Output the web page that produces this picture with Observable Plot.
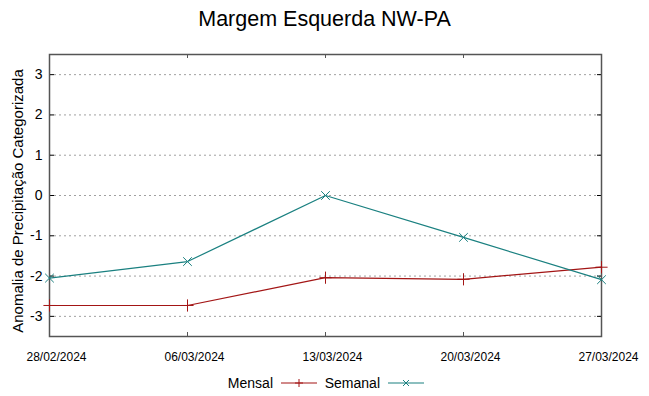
<!DOCTYPE html>
<html>
<head>
<meta charset="utf-8">
<script src="https://cdn.jsdelivr.net/npm/d3@7"></script>
<script src="https://cdn.jsdelivr.net/npm/@observablehq/plot@0.6"></script>
<style>
  html, body { margin: 0; padding: 0; background: #fff; }
  #wrap { position: relative; width: 649px; height: 396px; font-family: "Liberation Sans", Arial, sans-serif; }
  #title { position: absolute; top: 7px; left: 0; width: 649px; text-align: center; font-size: 21.5px; color: #000; }
  #legend { position: absolute; top: 372px; left: 0; width: 649px; font-size: 14px; color: #000; }
  #chart { position: absolute; top: 0; left: 0; }
</style>
</head>
<body>
<div id="wrap">
  <div id="chart"></div>
  <div id="title">Margem Esquerda NW-PA</div>
  <div id="legend"></div>
</div>
<script>
const dates = ["2024-02-28", "2024-03-06", "2024-03-13", "2024-03-20", "2024-03-27"];
const mensal = [-2.73, -2.73, -2.04, -2.08, -1.78];
const semanal = [-2.05, -1.64, 0.0, -1.04, -2.09];
const yTicks = [-3, -2, -1, 0, 1, 2, 3];
const seriesNames = ["Mensal", "Semanal"];
const seriesColors = ["#a31515", "#1a8080"];

const parse = d3.utcParse("%Y-%m-%d");
const xDates = dates.map(parse);
const rows = [];
xDates.forEach((d, i) => {
  rows.push({date: d, value: mensal[i], series: "Mensal"});
  rows.push({date: d, value: semanal[i], series: "Semanal"});
});

const fmt = d3.utcFormat("%d/%m/%Y");

const chart = Plot.plot({
  width: 649,
  height: 396,
  marginTop: 54,
  marginBottom: 60,
  marginLeft: 49,
  marginRight: 48,
  style: {fontFamily: "'Liberation Sans', Arial, sans-serif", background: "transparent"},
  x: {type: "utc", domain: [xDates[0], xDates[xDates.length - 1]]},
  y: {domain: [-3.5, 3.5]},
  color: {domain: seriesNames, range: seriesColors},
  marks: [
    Plot.gridY(yTicks, {stroke: "#a0a0a0", strokeOpacity: 1, strokeDasharray: "2,3", strokeWidth: 1}),
    Plot.axisY(yTicks, {anchor: "left", tickSize: -5, tickPadding: 12, fontSize: 14, tickFormat: d => String(d), label: null, stroke: "#000"}),
    Plot.axisY(yTicks, {anchor: "right", tickSize: -5, tickFormat: () => "", label: null, stroke: "#000"}),
    Plot.axisX(xDates, {anchor: "bottom", tickSize: -4, tickPadding: 20, tickFormat: fmt, fontSize: 12, textStroke: null, label: null, stroke: "#555"}),
    Plot.axisX(xDates, {anchor: "top", tickSize: -3, tickFormat: () => "", label: null, stroke: "#555"}),
    Plot.frame({stroke: "#555", strokeWidth: 1.5}),
    Plot.line(rows, {x: "date", y: "value", z: "series", stroke: "series", strokeWidth: 1.2}),
    Plot.dot(rows.filter(r => r.series === "Mensal"), {x: "date", y: "value", symbol: "plus", stroke: "series", r: 4, strokeWidth: 1}),
    Plot.dot(rows.filter(r => r.series === "Semanal"), {x: "date", y: "value", symbol: "times", stroke: "series", r: 4, strokeWidth: 1})
  ]
});
document.getElementById("chart").appendChild(chart);

// gnuplot-like slight rightward offset of x tick labels
chart.querySelectorAll("g[aria-label='x-axis tick label'] text").forEach(t => {
  t.setAttribute("dx", "7");
});

// y-axis label (rotated)
const ns = "http://www.w3.org/2000/svg";
const lab = document.createElementNS(ns, "text");
lab.setAttribute("transform", `translate(23,201) rotate(-90)`);
lab.setAttribute("text-anchor", "middle");
lab.setAttribute("font-size", "15");
lab.setAttribute("font-family", "'Liberation Sans', Arial, sans-serif");
lab.textContent = "Anomalia de Precipitação Categorizada";
chart.appendChild(lab);

// legend
const legend = d3.select("#legend").append("svg").attr("width", 649).attr("height", 22);
const legendX = [273, 380];
seriesNames.forEach((name, i) => {
  const g = legend.append("g");
  g.append("text").attr("x", legendX[i]).attr("y", 16).attr("text-anchor", "end")
    .attr("font-size", 14).attr("font-family", "'Liberation Sans', Arial, sans-serif").text(name);
  const x0 = legendX[i] + 8, x1 = x0 + 36, ym = 11;
  g.append("line").attr("x1", x0).attr("x2", x1).attr("y1", ym).attr("y2", ym)
    .attr("stroke", seriesColors[i]).attr("stroke-width", 1.2);
  const cx = (x0 + x1) / 2;
  if (i === 0) {
    g.append("path").attr("d", `M${cx - 4},${ym}H${cx + 4}M${cx},${ym - 4}V${ym + 4}`).attr("stroke", seriesColors[i]);
  } else {
    g.append("path").attr("d", `M${cx - 3},${ym - 3}L${cx + 3},${ym + 3}M${cx - 3},${ym + 3}L${cx + 3},${ym - 3}`).attr("stroke", seriesColors[i]);
  }
});
</script>
</body>
</html>
